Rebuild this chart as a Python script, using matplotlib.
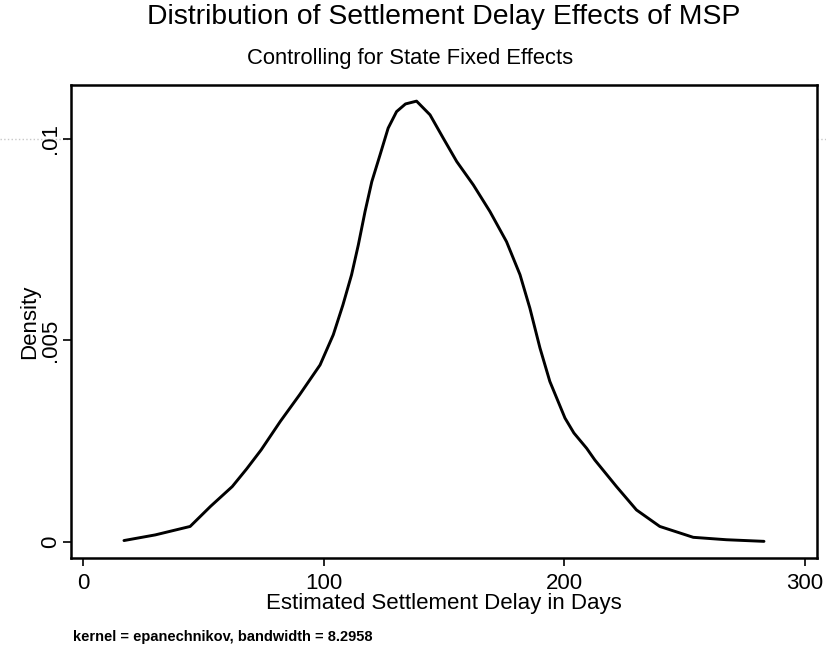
import matplotlib
matplotlib.use('Agg')
import matplotlib.pyplot as plt
from matplotlib.lines import Line2D

plt.rcParams['font.family'] = ['Liberation Sans', 'DejaVu Sans']

# kernel density curve
delay_days = [17, 30, 44.5, 53, 62, 68, 74, 82, 90, 98.5, 104, 108, 111.6,
              114.4, 117.2, 120, 123.4, 126.8, 130.3, 134, 138.6, 144.2,
              149.7, 155.3, 162.2, 169.1, 176, 181.6, 185.7, 189.9, 194,
              200.3, 204, 209.3, 212.7, 221.7, 230, 239.7, 253.6, 267.4, 283]
density = [0.00003, 0.00017, 0.00038, 0.00088, 0.00137, 0.00181, 0.00228,
           0.00299, 0.00365, 0.00439, 0.00514, 0.00588, 0.00663, 0.00737,
           0.0082, 0.00894, 0.0096, 0.01027, 0.01068, 0.01087, 0.01094,
           0.0106, 0.01002, 0.00944, 0.00886, 0.0082, 0.00745, 0.00663,
           0.0058, 0.00481, 0.00398, 0.00307, 0.0027, 0.00232, 0.00203,
           0.00137, 0.00079, 0.00038, 0.00011, 0.00005, 0.00001]

xticks = [0, 100, 200, 300]
yticks = [0, 0.005, 0.01]
ytick_labels = ['0', '.005', '.01']

fig = plt.figure(figsize=(8.26, 6.54), dpi=100)
ax = fig.add_axes([0.086, 0.147, 0.903, 0.723])

ax.plot(delay_days, density, color='black', lw=2.1,
        solid_joinstyle='round', solid_capstyle='round')

ax.set_xlim(-5, 305)
ax.set_ylim(-0.0004, 0.01134)
ax.set_xticks(xticks)
ax.set_yticks(yticks)
ax.set_yticklabels(ytick_labels, rotation=90, va='center')
ax.tick_params(direction='out', length=6, width=1.2, labelsize=16)
ax.tick_params(axis='x', pad=5)
ax.tick_params(axis='y', pad=1)

for s in ax.spines.values():
    s.set_linewidth(1.8)

ax.set_xlabel('Estimated Settlement Delay in Days', fontsize=16, labelpad=-1)
ax.set_ylabel('Density', fontsize=16, labelpad=0)

fig.text(444 / 826, 0.974, 'Distribution of Settlement Delay Effects of MSP',
         ha='center', va='center', fontsize=20.4)
fig.text(410 / 826, 0.911, 'Controlling for State Fixed Effects',
         ha='center', va='center', fontsize=15.8)
fig.text(0.088, 0.026, 'kernel = epanechnikov, bandwidth = 8.2958',
         ha='left', va='center', fontsize=10.5, fontweight='bold')

# faint scan streak across the page at the .01 level
fig.add_artist(Line2D([0, 1], [1 - 139 / 654, 1 - 139 / 654],
                      transform=fig.transFigure, color='#c8c8c8',
                      lw=1.0, ls=':', zorder=0))

fig.savefig('out.png', dpi=100)
